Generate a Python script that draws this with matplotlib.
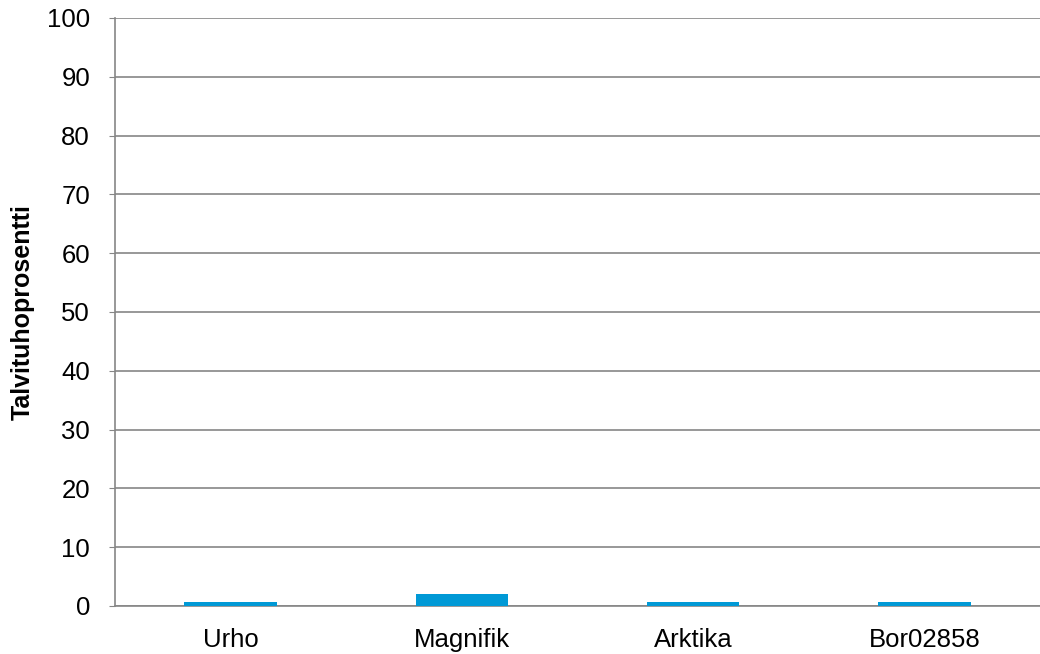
import matplotlib
matplotlib.use("Agg")
import matplotlib.pyplot as plt

lajikkeet = ['Urho', 'Magnifik', 'Arktika', 'Bor02858']
tuho = [0.7, 2.0, 0.7, 0.7]

plt.rcParams['font.family'] = ['Liberation Sans', 'DejaVu Sans']

fig = plt.figure(figsize=(10.4, 6.54), dpi=100)
ax = fig.add_axes([0.1106, 0.0734, 0.8894, 0.8991])

x = range(len(lajikkeet))
ax.bar(x, tuho, width=0.4, color='#0099d6', zorder=3)

ax.set_xlim(-0.5, len(lajikkeet) - 0.5)
ax.set_ylim(0, 100)
ax.set_yticks(range(0, 101, 10))
ax.set_xticks(list(x))
ax.set_xticklabels(lajikkeet)
ax.yaxis.grid(True, color='#868686', linewidth=1.2)
ax.set_axisbelow(True)

for s in ['top', 'right']:
    ax.spines[s].set_visible(False)
for s in ['left', 'bottom']:
    ax.spines[s].set_color('#868686')
    ax.spines[s].set_linewidth(1.2)

ax.tick_params(axis='y', length=4, color='#868686', labelsize=18.5, pad=14)
ax.tick_params(axis='x', length=0, labelsize=18.5, pad=15.5)
ax.set_ylabel('Talvituhoprosentti', fontsize=18, fontweight='bold', labelpad=9)

plt.savefig('out.png', dpi=100)
